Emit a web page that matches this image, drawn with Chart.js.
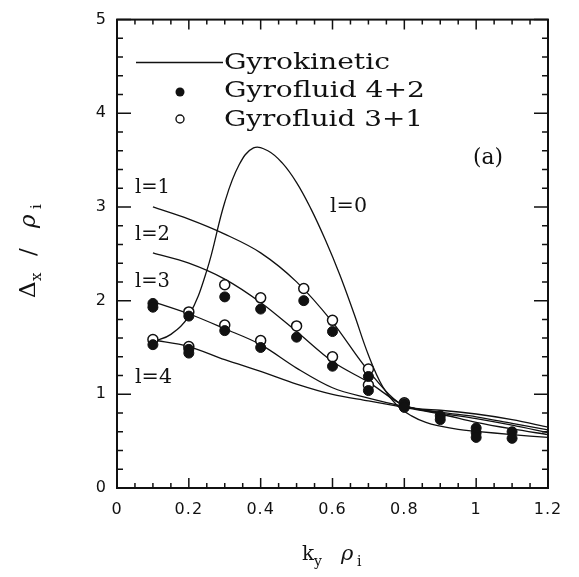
<!DOCTYPE html>
<html>
<head>
<meta charset="utf-8">
<script src="https://cdn.jsdelivr.net/npm/chart.js@4.4.0/dist/chart.umd.min.js"></script>
<style>
  html, body { margin: 0; padding: 0; background: #fff; }
  #wrap { position: relative; width: 579px; height: 577px; }
</style>
</head>
<body>
<div id="wrap"><canvas id="chart"></canvas></div>
<script>
// gyrokinetic curves l=1..4 share one k grid
const kGrid = [0.1, 0.2, 0.3, 0.4, 0.5, 0.6, 0.7, 0.8, 0.9, 1.0, 1.1, 1.2];
const gkL1 = [3.00, 2.87, 2.71, 2.51, 2.20, 1.77, 1.25, 0.88, 0.83, 0.79, 0.73, 0.65];
const gkL2 = [2.51, 2.40, 2.23, 1.98, 1.67, 1.35, 1.13, 0.88, 0.81, 0.76, 0.69, 0.62];
const gkL3 = [1.99, 1.86, 1.70, 1.53, 1.28, 1.07, 0.96, 0.87, 0.80, 0.74, 0.67, 0.59];
const gkL4 = [1.58, 1.51, 1.37, 1.245, 1.11, 1.00, 0.93, 0.86, 0.79, 0.70, 0.63, 0.57];

// l=0 has a sharp peak, so it gets a finer grid
const kGridL0 = [0.1, 0.15, 0.2, 0.25, 0.3, 0.34, 0.38, 0.42, 0.46, 0.5, 0.54, 0.58,
                 0.62, 0.66, 0.7, 0.74, 0.78, 0.82, 0.86, 0.9, 0.95, 1.0, 1.1, 1.2];
const gkL0 = [1.56, 1.64, 1.84, 2.32, 3.05, 3.45, 3.63, 3.60, 3.47, 3.26, 2.98, 2.65,
              2.28, 1.86, 1.42, 1.08, 0.88, 0.77, 0.70, 0.66, 0.625, 0.605, 0.57, 0.54];

// Gyrofluid 4+2 (filled)
const gf42K = [0.1, 0.1, 0.1, 0.2, 0.2, 0.2, 0.3, 0.3, 0.4, 0.4, 0.5, 0.52, 0.6, 0.6,
               0.7, 0.7, 0.8, 0.8, 0.9, 0.9, 1.0, 1.0, 1.0, 1.1, 1.1];
const gf42V = [1.97, 1.93, 1.53, 1.835, 1.48, 1.44, 2.04, 1.68, 1.91, 1.50, 1.61, 2.00, 1.67, 1.30,
               1.19, 1.04, 0.90, 0.86, 0.77, 0.73, 0.64, 0.59, 0.54, 0.60, 0.53];

// Gyrofluid 3+1 (open)
const gf31K = [0.1, 0.2, 0.2, 0.3, 0.3, 0.4, 0.4, 0.5, 0.52, 0.6, 0.6, 0.7, 0.7, 0.8];
const gf31V = [1.585, 1.88, 1.51, 2.17, 1.74, 2.03, 1.575, 1.73, 2.13, 1.79, 1.40, 1.27, 1.10, 0.91];

const INK = '#111';

function pts(xs, ys) {
    return xs.map((x, i) => ({ x: x, y: ys[i] }));
}

function curve(xs, ys, mode) {
    return {
        data: pts(xs, ys),
        borderColor: INK,
        borderWidth: 1.3,
        pointRadius: 0,
        cubicInterpolationMode: mode,
        tension: 0.4,
        fill: false
    };
}

// the original lettering is very wide: stretch the glyphs to the measured width
function fitText(ctx, str, x, y, w) {
    const m = ctx.measureText(str).width;
    ctx.save();
    ctx.translate(x, y);
    ctx.scale(w / m, 1);
    ctx.fillText(str, 0, 0);
    ctx.restore();
}

const decor = {
    id: 'decor',
    beforeDraw(chart) {
        chart.ctx.letterSpacing = '1px';
    },
    afterDraw(chart) {
        const ctx = chart.ctx;
        const a = chart.chartArea;
        const sx = chart.scales.x, sy = chart.scales.y;
        ctx.save();
        ctx.letterSpacing = '0px';
        ctx.strokeStyle = INK;
        ctx.fillStyle = INK;

        // frame
        ctx.lineWidth = 2;
        ctx.strokeRect(a.left, a.top, a.right - a.left, a.bottom - a.top);

        // inward ticks on all sides
        ctx.lineWidth = 1.5;
        ctx.beginPath();
        for (let i = 0; i <= 24; i++) {
            const px = sx.getPixelForValue(i * 0.05);
            const len = i % 4 === 0 ? 10 : 5;
            ctx.moveTo(px, a.bottom); ctx.lineTo(px, a.bottom - len);
            ctx.moveTo(px, a.top); ctx.lineTo(px, a.top + len);
        }
        for (let i = 0; i <= 25; i++) {
            const py = sy.getPixelForValue(i * 0.2);
            const len = i % 5 === 0 ? 14 : 6;
            ctx.moveTo(a.left, py); ctx.lineTo(a.left + len, py);
            ctx.moveTo(a.right, py); ctx.lineTo(a.right - len, py);
        }
        ctx.stroke();

        // legend
        ctx.lineWidth = 1.3;
        ctx.beginPath();
        ctx.moveTo(136, 62.5); ctx.lineTo(223, 62.5);
        ctx.stroke();
        ctx.beginPath(); ctx.arc(180, 92, 4.5, 0, Math.PI * 2); ctx.fill();
        ctx.lineWidth = 1.4;
        ctx.beginPath(); ctx.arc(180, 119, 4, 0, Math.PI * 2); ctx.stroke();

        ctx.textAlign = 'left';
        ctx.textBaseline = 'alphabetic';
        ctx.font = '22px "DejaVu Serif"';
        fitText(ctx, 'Gyrokinetic', 224, 69, 166);
        fitText(ctx, 'Gyrofluid 4+2', 224, 97, 201);
        fitText(ctx, 'Gyrofluid 3+1', 224, 126, 199);

        // curve labels
        ctx.font = '20px "DejaVu Serif"';
        fitText(ctx, 'l=1', 135, 193, 35);
        fitText(ctx, 'l=2', 135, 240, 35);
        fitText(ctx, 'l=3', 135, 287, 35);
        fitText(ctx, 'l=4', 135, 383, 37);
        fitText(ctx, 'l=0', 330, 212, 37);
        ctx.font = '22px "DejaVu Serif"';
        fitText(ctx, '(a)', 473, 164, 30);

        // x title: k_y rho_i
        ctx.font = '20px "DejaVu Serif"';
        ctx.fillText('k', 302, 560);
        ctx.font = '14px "DejaVu Serif"';
        ctx.fillText('y', 314, 566);
        ctx.font = 'italic 21px "DejaVu Serif"';
        ctx.fillText('ρ', 341, 560);
        ctx.font = '14px "DejaVu Serif"';
        ctx.fillText('i', 357, 566);

        // y title: Delta_x / rho_i, rotated
        ctx.translate(35, 298);
        ctx.rotate(-Math.PI / 2);
        ctx.font = '23px "DejaVu Serif"';
        ctx.fillText('Δ', 0, 0);
        ctx.font = '15px "DejaVu Serif"';
        ctx.fillText('x', 17, 6);
        ctx.font = '23px "DejaVu Serif"';
        ctx.fillText('/', 42, 0);
        ctx.font = 'italic 23px "DejaVu Serif"';
        ctx.fillText('ρ', 70, 0);
        ctx.font = '15px "DejaVu Serif"';
        ctx.fillText('i', 89, 6);

        ctx.restore();
    }
};

new Chart(document.getElementById('chart'), {
    type: 'line',
    data: {
        datasets: [
            {
                data: pts(gf42K, gf42V),
                showLine: false,
                pointRadius: 5,
                pointBackgroundColor: INK,
                pointBorderColor: INK,
                pointBorderWidth: 1
            },
            {
                data: pts(gf31K, gf31V),
                showLine: false,
                pointRadius: 5,
                pointBackgroundColor: '#fff',
                pointBorderColor: INK,
                pointBorderWidth: 1.5
            },
            curve(kGridL0, gkL0, 'default'),
            curve(kGrid, gkL1, 'monotone'),
            curve(kGrid, gkL2, 'monotone'),
            curve(kGrid, gkL3, 'monotone'),
            curve(kGrid, gkL4, 'monotone')
        ]
    },
    options: {
        responsive: true,
        maintainAspectRatio: false,
        animation: false,
        layout: { padding: { top: 14, right: 31, left: 0, bottom: 0 } },
        plugins: {
            legend: { display: false },
            tooltip: { enabled: false }
        },
        scales: {
            x: {
                type: 'linear',
                min: 0,
                max: 1.2,
                ticks: {
                    stepSize: 0.2,
                    padding: 12,
                    color: INK,
                    font: { family: 'DejaVu Sans', size: 16 },
                    callback: v => String(Math.round(v * 100) / 100)
                },
                grid: { display: false, drawTicks: false },
                border: { display: false },
                afterFit: s => { s.height = 89; }
            },
            y: {
                min: 0,
                max: 5,
                ticks: {
                    stepSize: 1,
                    padding: 10,
                    color: INK,
                    font: { family: 'DejaVu Sans', size: 16 }
                },
                grid: { display: false, drawTicks: false },
                border: { display: false },
                afterFit: s => { s.width = 117; }
            }
        }
    },
    plugins: [decor]
});
</script>
</body>
</html>
